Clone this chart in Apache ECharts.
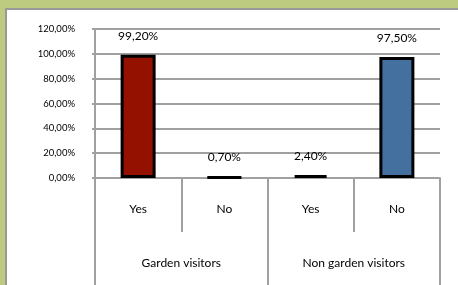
<!DOCTYPE html>
<html>
<head>
<meta charset="utf-8">
<script src="https://cdn.jsdelivr.net/npm/echarts@6/dist/echarts.min.js"></script>
<style>
  html, body { margin: 0; padding: 0; }
  #wrap { position: relative; width: 458px; height: 285px; background: #bccb80; overflow: hidden; }
  #panel { position: absolute; left: 5px; top: 8px; right: 0; bottom: 0; background: #fff;
           border-left: 2px solid #999; border-top: 2px solid #999; }
  #main { position: absolute; left: 0; top: 0; width: 458px; height: 285px; }
</style>
</head>
<body>
<div id="wrap">
  <div id="panel"></div>
  <div id="main"></div>
</div>
<script>
var answers = ['Yes', 'No', 'Yes', 'No'];
var groups = ['Garden visitors', 'Non garden visitors'];
var shares = [99.2, 0.7, 2.4, 97.5];
var yTicks = [0, 20, 40, 60, 80, 100, 120];

var barColors = ['#941100', '#941100', '#4470a0', '#4470a0'];
var gray = '#a0a0a0';
var font = 'Lato, "Open Sans", sans-serif';

function pct(v) {
  return v.toFixed(2).replace('.', ',') + '%';
}

var chart = echarts.init(document.getElementById('main'), null, { renderer: 'canvas' });

chart.setOption({
  backgroundColor: 'transparent',
  animation: false,
  grid: { left: 95, right: 18, top: 29, bottom: 107 },
  xAxis: [
    {
      type: 'category',
      data: answers,
      position: 'bottom',
      axisLine: { lineStyle: { color: gray, width: 2 } },
      axisTick: { show: true, length: 54, lineStyle: { color: gray, width: 2 } },
      axisLabel: { color: '#000', fontFamily: font, fontSize: 12, margin: 31, verticalAlign: 'middle' }
    },
    {
      type: 'category',
      data: groups,
      position: 'bottom',
      axisLine: { show: false },
      axisTick: { show: true, length: 107, lineStyle: { color: gray, width: 2 } },
      axisLabel: { color: '#000', fontFamily: font, fontSize: 12, margin: 85, verticalAlign: 'middle' }
    }
  ],
  yAxis: {
    type: 'value',
    min: yTicks[0],
    max: yTicks[yTicks.length - 1],
    interval: 20,
    axisLine: { show: true, lineStyle: { color: gray, width: 2 } },
    axisTick: { show: true, length: 3, lineStyle: { color: gray, width: 2 } },
    splitLine: { show: true, lineStyle: { color: gray, width: 2 } },
    axisLabel: { color: '#000', fontFamily: font, fontSize: 9.5, margin: 20, formatter: pct }
  },
  series: [{
    type: 'bar',
    xAxisIndex: 0,
    barWidth: 35,
    data: shares.map(function (v, i) {
      return { value: v, itemStyle: { color: barColors[i] } };
    }),
    itemStyle: { borderColor: '#000', borderWidth: 3 },
    label: {
      show: true,
      position: 'top',
      distance: 13,
      color: '#000',
      fontFamily: font,
      fontSize: 12,
      formatter: function (p) { return pct(p.value); }
    }
  }]
});
</script>
</body>
</html>
